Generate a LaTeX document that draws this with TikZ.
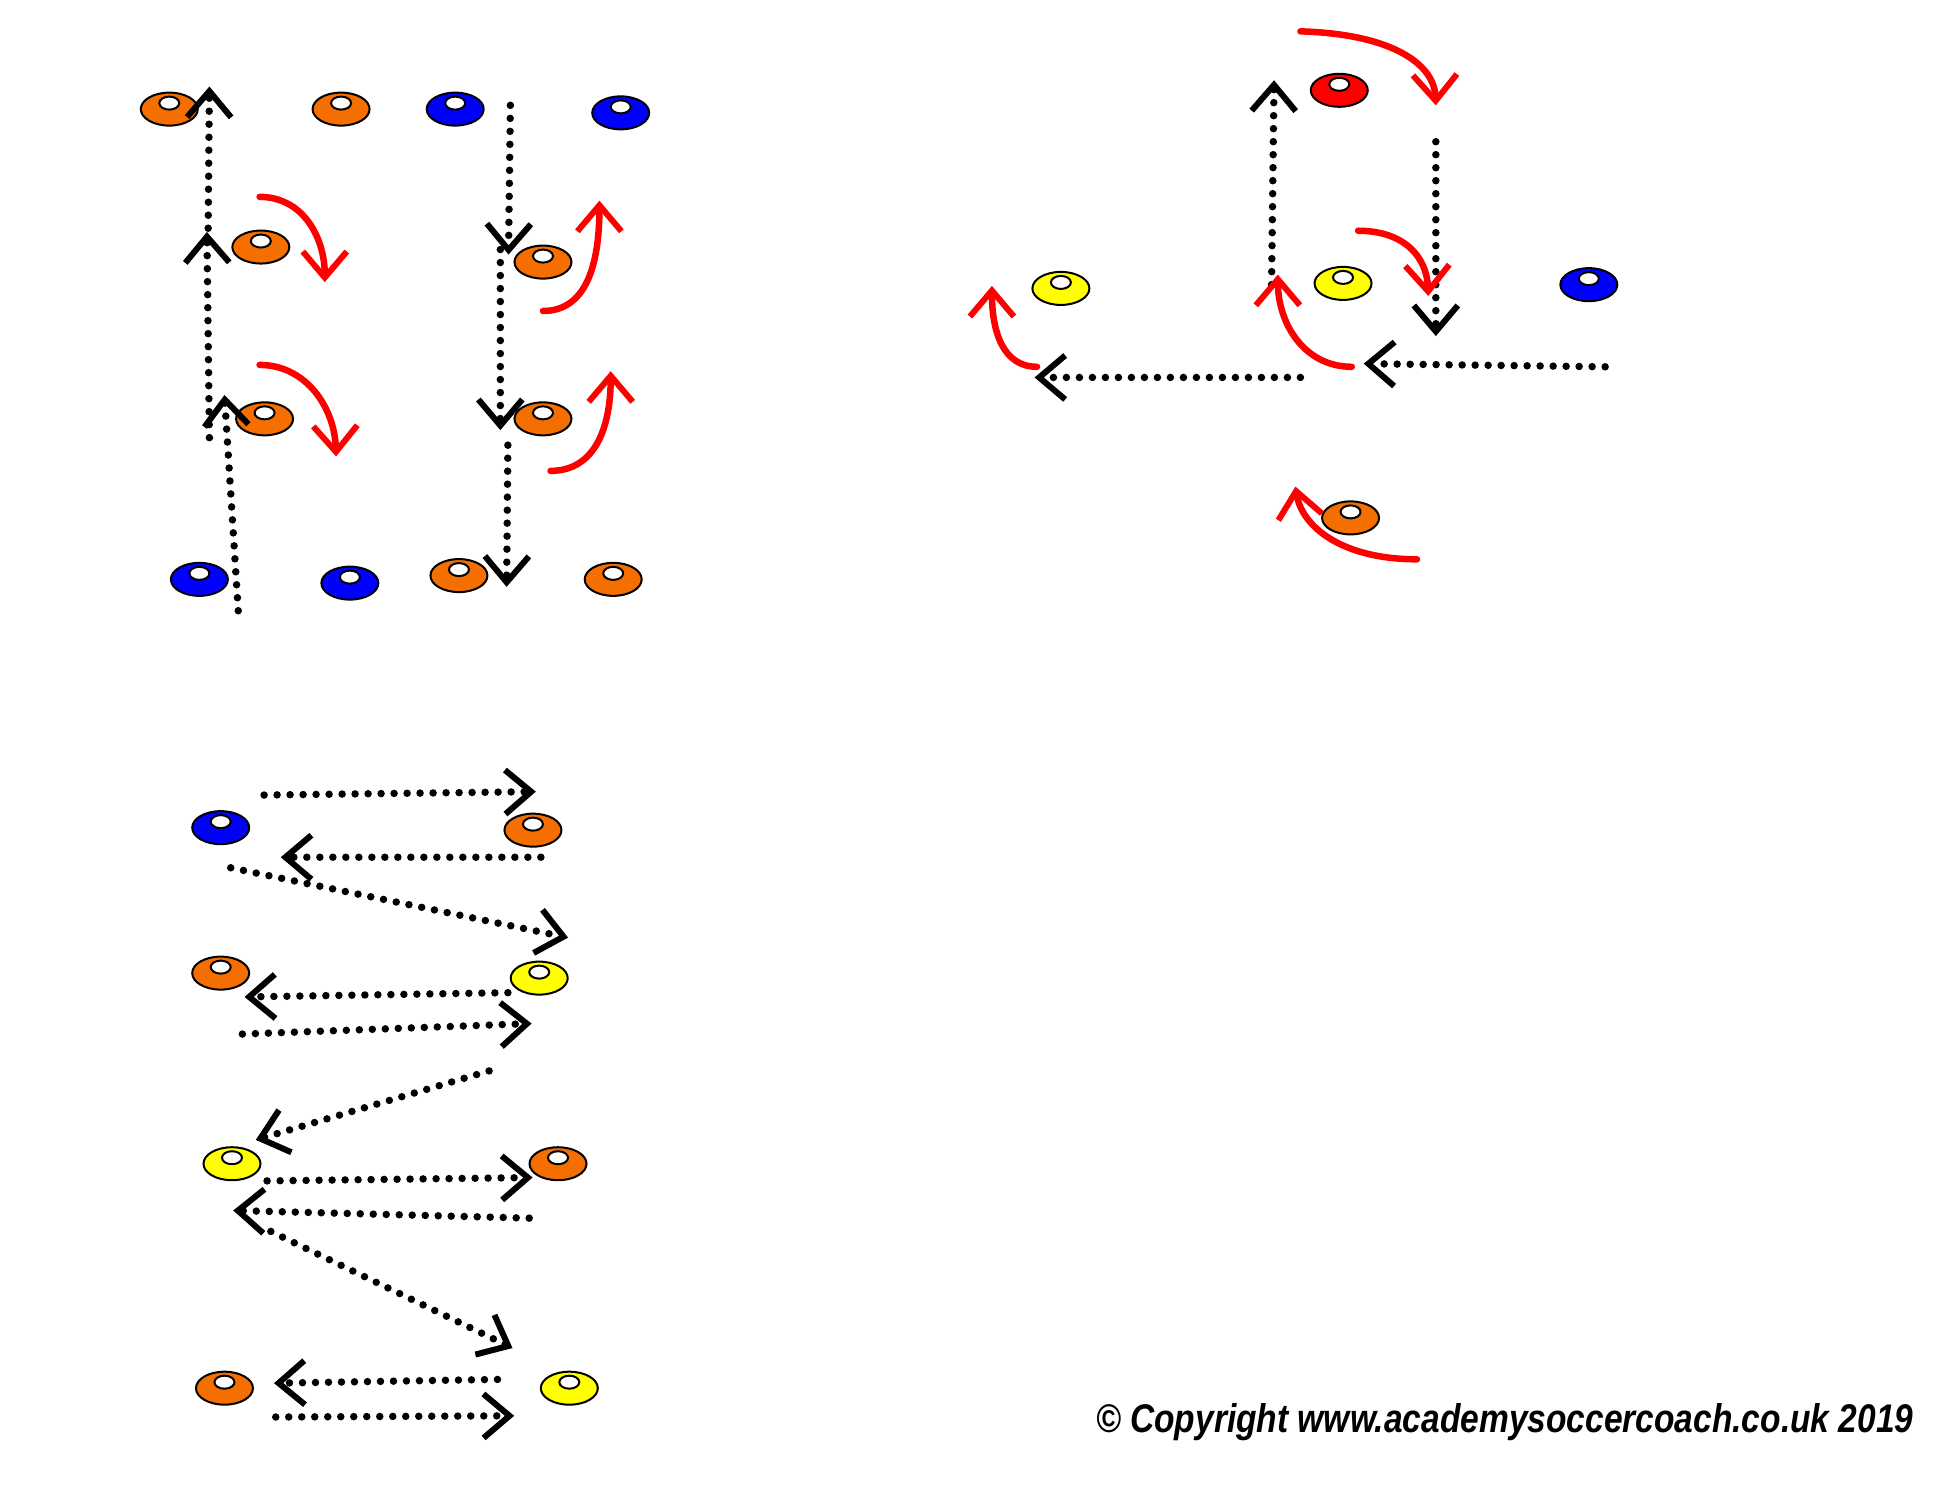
\documentclass[tikz,border=0pt]{standalone}
\usepackage{fontspec}
\setmainfont{Liberation Sans}
\usetikzlibrary{arrows.meta,shapes.geometric}
\definecolor{coneorange}{RGB}{245,110,0}
\definecolor{coneblue}{RGB}{0,0,255}
\definecolor{coneyellow}{RGB}{255,255,0}
\definecolor{conered}{RGB}{255,0,0}
\definecolor{runred}{RGB}{255,0,0}
\begin{document}
\begin{tikzpicture}[x=1.254pt,y=-1.254pt,
  cone/.style={ellipse, draw=black, line width=2pt, fill=#1,
    minimum width=57pt, minimum height=33pt, inner sep=0pt,
    path picture={\draw[fill=white, line width=2pt]
      ([yshift=6pt]path picture bounding box.center) ellipse (10pt and 6.5pt);}},
  pass/.style={draw=black, line width=7.5pt, dash pattern=on 0pt off 13pt, line cap=round,
    -{Straight Barb[length=26pt,width=44pt,line width=6pt]}},
  run/.style={draw=runred, line width=6.5pt, line cap=round,
    -{Straight Barb[length=26pt,width=44pt,line width=6pt]}}]
\useasboundingbox (0,0) rectangle (1563,1184.2);

% ---------- top-left panel ----------
\node[cone=coneorange] (a1) at (135,87) {};
\node[cone=coneorange] (a2) at (272,87) {};
\node[cone=coneblue]   (a3) at (363,87) {};
\node[cone=coneblue]   (a4) at (495,90) {};
\node[cone=coneorange] (a5) at (208,197) {};
\node[cone=coneorange] (a6) at (433,209) {};
\node[cone=coneorange] (a7) at (211,334) {};
\node[cone=coneorange] (a8) at (433,334) {};
\node[cone=coneblue]   (a9) at (159,462) {};
\node[cone=coneblue]   (a10) at (279,465) {};
\node[cone=coneorange] (a11) at (366,459) {};
\node[cone=coneorange] (a12) at (489,462) {};

\draw[pass] (167,349) -- (165,185);
\draw[pass] (166,182) -- (167,69);
\draw[pass] (190,487) -- (179,315);
\draw[pass] (407,84) -- (405.5,203);
\draw[pass] (399,199) -- (399,343);
\draw[pass] (405,355) -- (404,468);

\draw[run] (207,157) .. controls (242,157) and (259,190) .. (259,225);
\draw[run] (207,291) .. controls (244,291) and (267,325) .. (268,364);
\draw[run] (433,248) .. controls (468,248) and (478,210) .. (478,160);
\draw[run] (439,375.5) .. controls (475,375.5) and (487,340) .. (487,296);

% ---------- top-right panel ----------
\node[cone=conered]    (b1) at (1068,72) {};
\node[cone=coneyellow] (b2) at (846,230) {};
\node[cone=coneyellow] (b3) at (1071,226) {};
\node[cone=coneblue]   (b4) at (1267,227) {};
\node[cone=coneorange] (b5) at (1077,413) {};

\draw[pass] (1014,227) -- (1016,64);
\draw[pass] (1145,113) -- (1145,268);
\draw[pass] (1280,292.5) -- (1087.5,290);
\draw[pass] (1037,301) -- (825,301);

\draw[run] (1037,25) .. controls (1108,27) and (1144,50) .. (1145,84);
\draw[run] (1083,184) .. controls (1120,184) and (1138,205) .. (1139,236);
\draw[run] (1078,292.5) .. controls (1040,292.5) and (1019,258) .. (1019,219);
\draw[run] (827,292.5) .. controls (800,292.5) and (791,265) .. (791,228);
\draw[run] (1130,446) .. controls (1070,446) and (1038,420) .. (1033,388);

% ---------- bottom-left panel ----------
\node[cone=coneblue]   (c1) at (176,660) {};
\node[cone=coneorange] (c2) at (425,662) {};
\node[cone=coneorange] (c3) at (176,776) {};
\node[cone=coneyellow] (c4) at (430,780) {};
\node[cone=coneyellow] (c5) at (185,928) {};
\node[cone=coneorange] (c6) at (445,928) {};
\node[cone=coneorange] (c7) at (179,1107) {};
\node[cone=coneyellow] (c8) at (454,1107) {};

\draw[pass] (210.6,634) -- (427.3,631.3);
\draw[pass] (431.3,683.6) -- (223.9,683.6);
\draw[pass] (184,692) -- (453,747.7);
\draw[pass] (405,791.6) -- (195,795);
\draw[pass] (193.3,824.6) -- (423.9,816.2);
\draw[pass] (390,854) -- (204,909);
\draw[pass] (213,941.7) -- (424.7,939);
\draw[pass] (422,971.4) -- (186,965.3);
\draw[pass] (216,982) -- (408.7,1075);
\draw[pass] (396.7,1100) -- (218.5,1103);
\draw[pass] (219.9,1130) -- (410,1129);

% ---------- copyright ----------
\node[font=\fontsize{40}{48}\selectfont\bfseries\itshape, inner sep=0pt, anchor=base]
  (copy) at (1200,1142) {\scalebox{0.838}[1]{© Copyright www.academysoccercoach.co.uk 2019}};
\end{tikzpicture}
\end{document}
